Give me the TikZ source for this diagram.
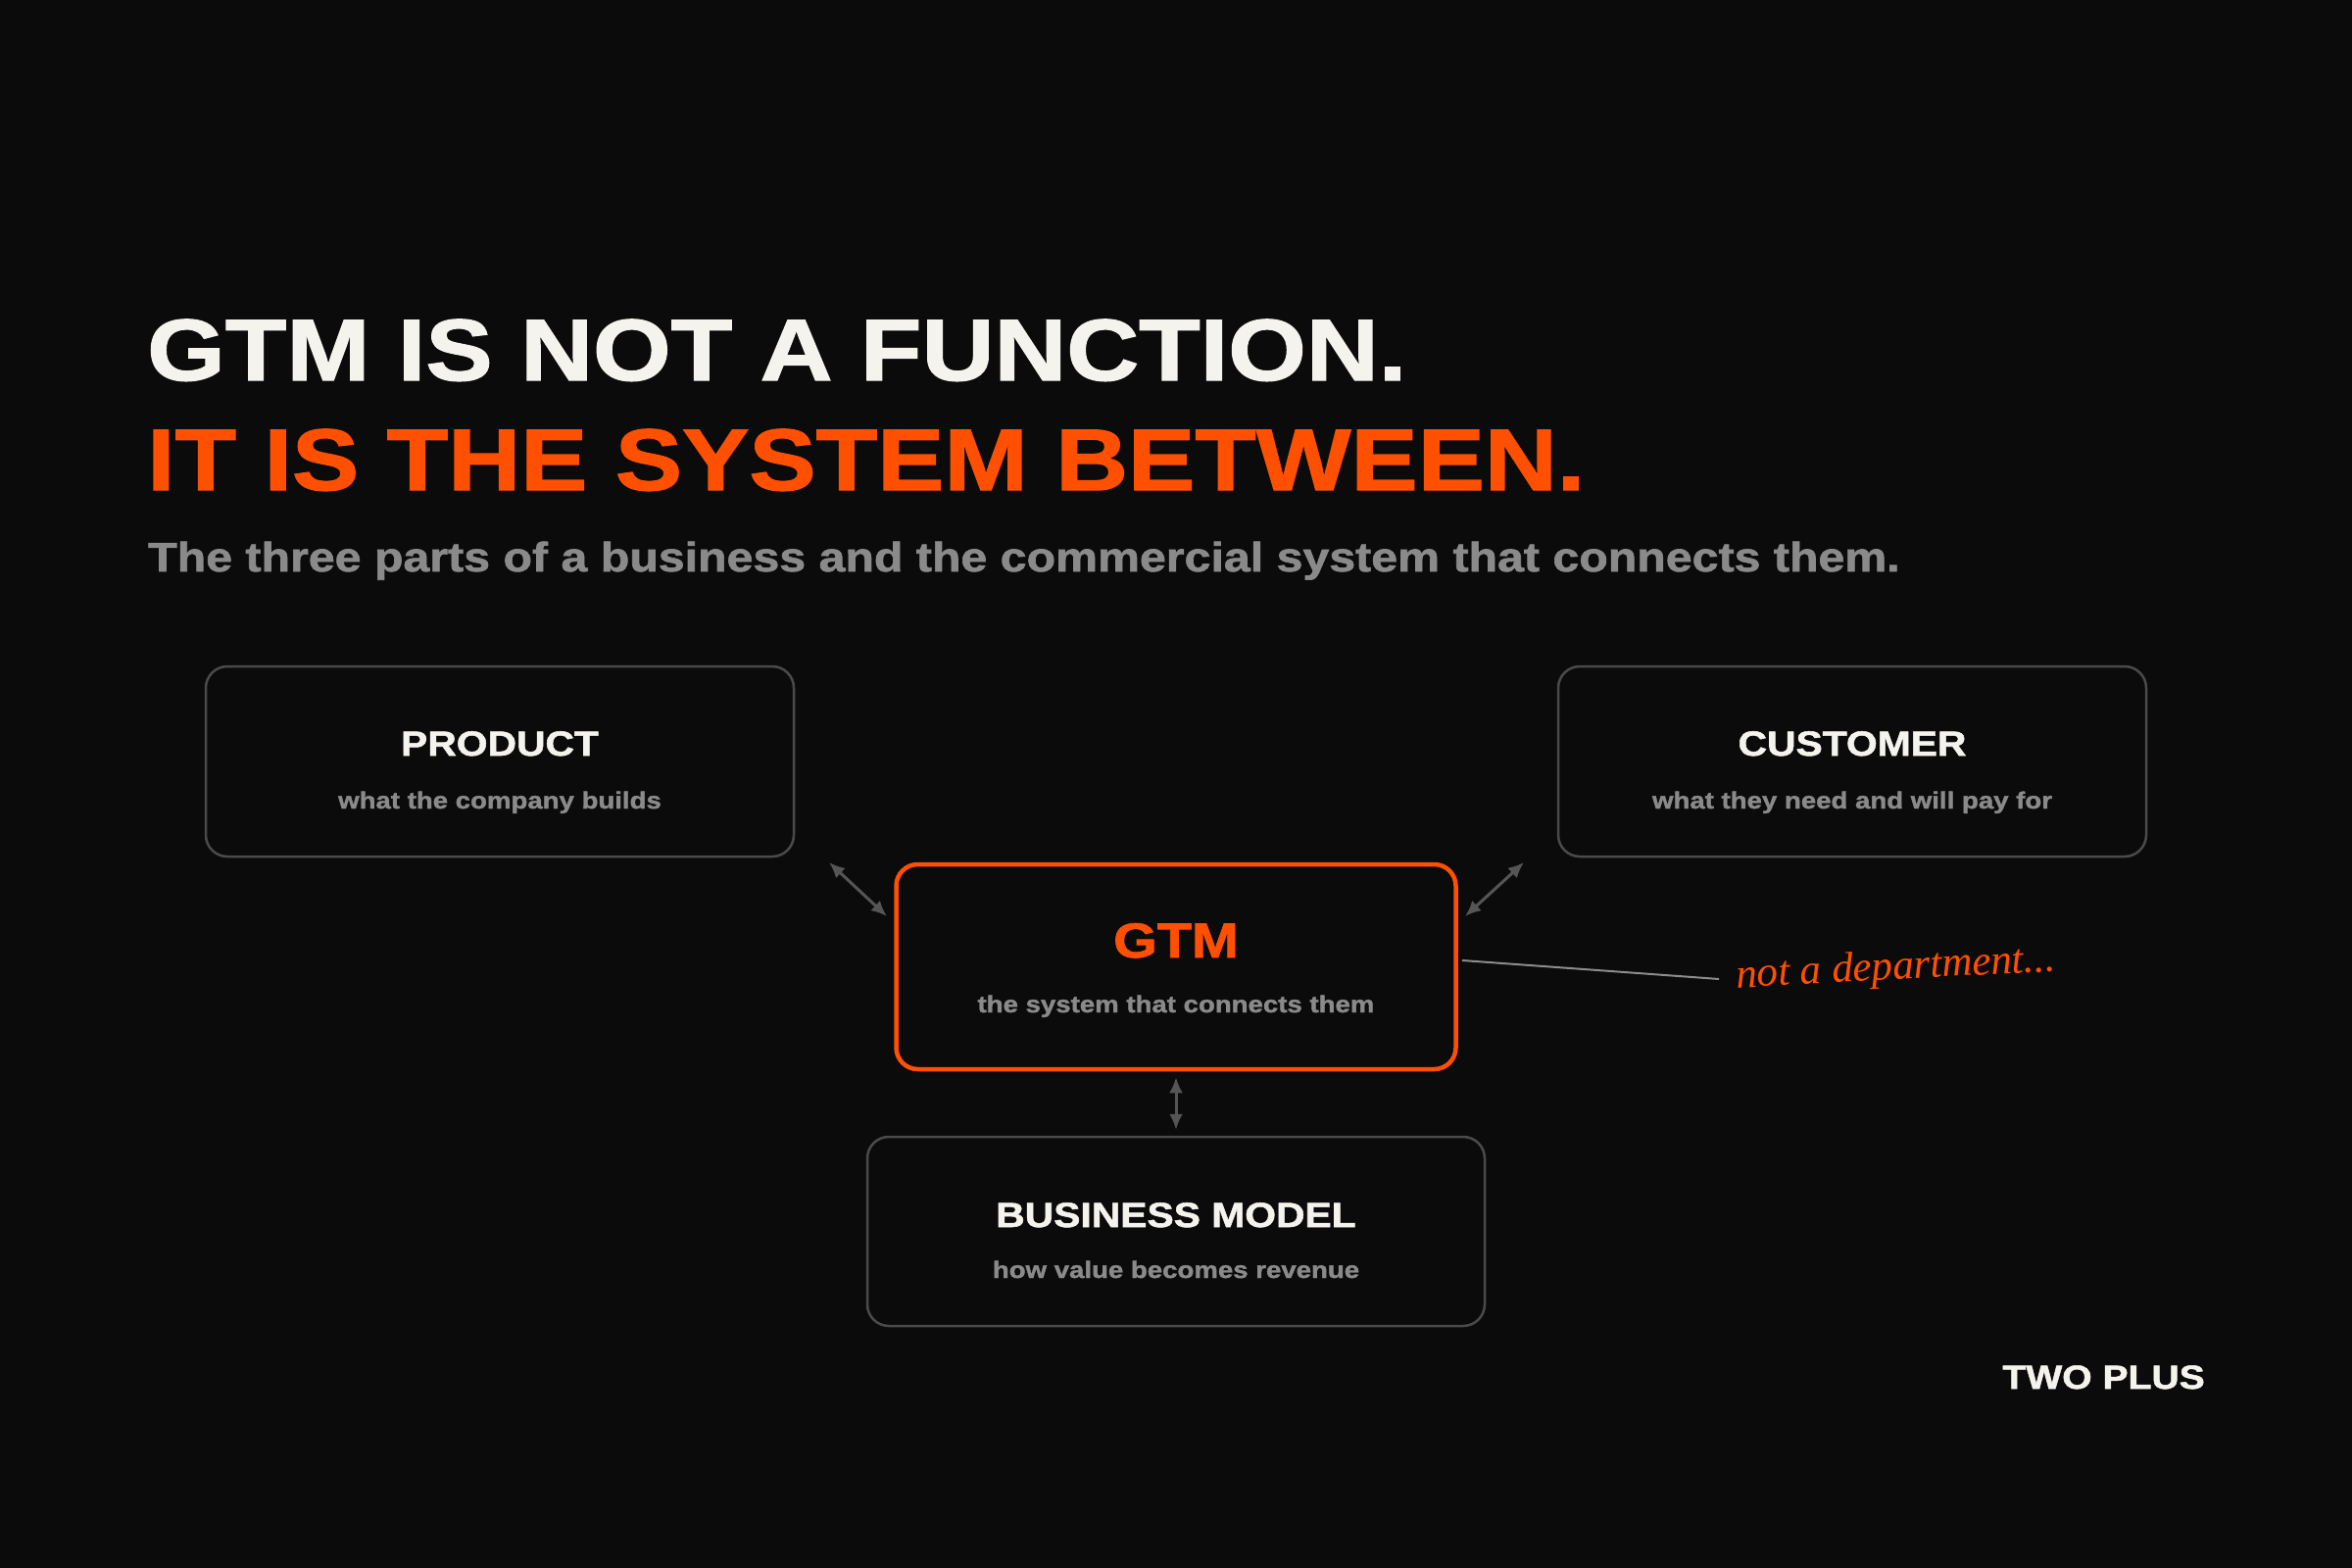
\documentclass[tikz,border=0pt]{standalone}
\usepackage{fontspec}
\setmainfont{Liberation Sans}
\newfontfamily\hd[FakeStretch=1.15,FakeBold=1.5]{Liberation Sans}
\newfontfamily\hand{Liberation Serif}
\usetikzlibrary{arrows.meta,calc}
\definecolor{bgc}{HTML}{0B0B0B}
\definecolor{ink}{HTML}{F5F3EE}
\definecolor{orng}{HTML}{FF4F00}
\definecolor{boxln}{HTML}{4A4A4A}
\definecolor{subg}{HTML}{8A8A8A}
\definecolor{arr}{HTML}{555555}
\definecolor{annl}{HTML}{8C8C8C}
\tikzset{
  card/.style={draw=boxln, line width=2.5pt, fill=bgc, rounded corners=22pt, inner sep=0pt},
  gtmcard/.style={draw=orng, line width=4.5pt, fill=bgc, rounded corners=22pt, inner sep=0pt},
  cardtitle/.style={anchor=base, inner sep=0pt, text=ink, font=\hd\bfseries\fontsize{35.5}{40}\selectfont},
  cardsub/.style={anchor=base, inner sep=0pt, text=subg, font=\hd\bfseries\fontsize{24}{28}\selectfont},
  link/.style={draw=arr, line width=3pt, {Latex[length=16pt,width=14pt]}-{Latex[length=16pt,width=14pt]}},
}
\begin{document}
\begin{tikzpicture}[x=1pt,y=-1pt]
\fill[bgc] (0,0) rectangle (2400,1600);
\useasboundingbox (0,0) rectangle (2400,1600);
% headings
\node[anchor=base west, inner sep=0pt, text=ink, font=\hd\bfseries\fontsize{89}{96}\selectfont] (h1) at (150,388) {GTM IS NOT A FUNCTION.};
\node[anchor=base west, inner sep=0pt, text=orng, font=\hd\bfseries\fontsize{89}{96}\selectfont] (h2) at (150,500) {IT IS THE SYSTEM BETWEEN.};
\node[anchor=base west, inner sep=0pt, text=subg, font=\hd\bfseries\fontsize{42}{48}\selectfont] (h3) at (151,583) {The three parts of a business and the commercial system that connects them.};
% boxes
\node[card, minimum width=600pt, minimum height=194pt] (prod) at (510,777) {};
\node[card, minimum width=600pt, minimum height=194pt] (cust) at (1890,777) {};
\node[gtmcard, minimum width=571pt, minimum height=209pt] (gtm) at (1200,986.5) {};
\node[card, minimum width=630pt, minimum height=193pt] (bm) at (1200,1256.5) {};
% texts
\node[cardtitle] (prodt) at (510,771) {PRODUCT};
\node[cardsub] (prods) at (510,825) {what the company builds};
\node[cardtitle] (custt) at (1890,771) {CUSTOMER};
\node[cardsub] (custs) at (1890,825) {what they need and will pay for};
\node[anchor=base, inner sep=0pt, text=orng, font=\hd\bfseries\fontsize{50}{56}\selectfont] (gtmt) at (1200,977) {GTM};
\node[cardsub] (gtms) at (1200,1033) {the system that connects them};
\node[cardtitle] (bmt) at (1200,1252) {BUSINESS MODEL};
\node[cardsub] (bms) at (1200,1304) {how value becomes revenue};
% connectors
\coordinate (p1) at (846,880);
\coordinate (g1) at (905,935);
\coordinate (c1) at (1555,880);
\coordinate (g2) at (1495,935);
\draw[link] (p1) -- (g1);
\draw[link] (c1) -- (g2);
\draw[link] ($(gtm.south)+(0,6)$) -- ($(bm.north)+(0,-6)$);
% annotation
\coordinate (a0) at (1492,980);
\node[anchor=base west, inner sep=0pt, text=orng, font=\hand\itshape\fontsize{43}{48}\selectfont, rotate=3] (note) at (1772,1008) {not a department...};
\coordinate (a1) at (1754,999);
\draw[annl, line width=2pt] (a0) -- (a1);
% brand
\node[anchor=base east, inner sep=0pt, text=ink, font=\hd\bfseries\fontsize{34}{40}\selectfont] (brand) at (2250,1417) {TWO PLUS};
\end{tikzpicture}
\end{document}
